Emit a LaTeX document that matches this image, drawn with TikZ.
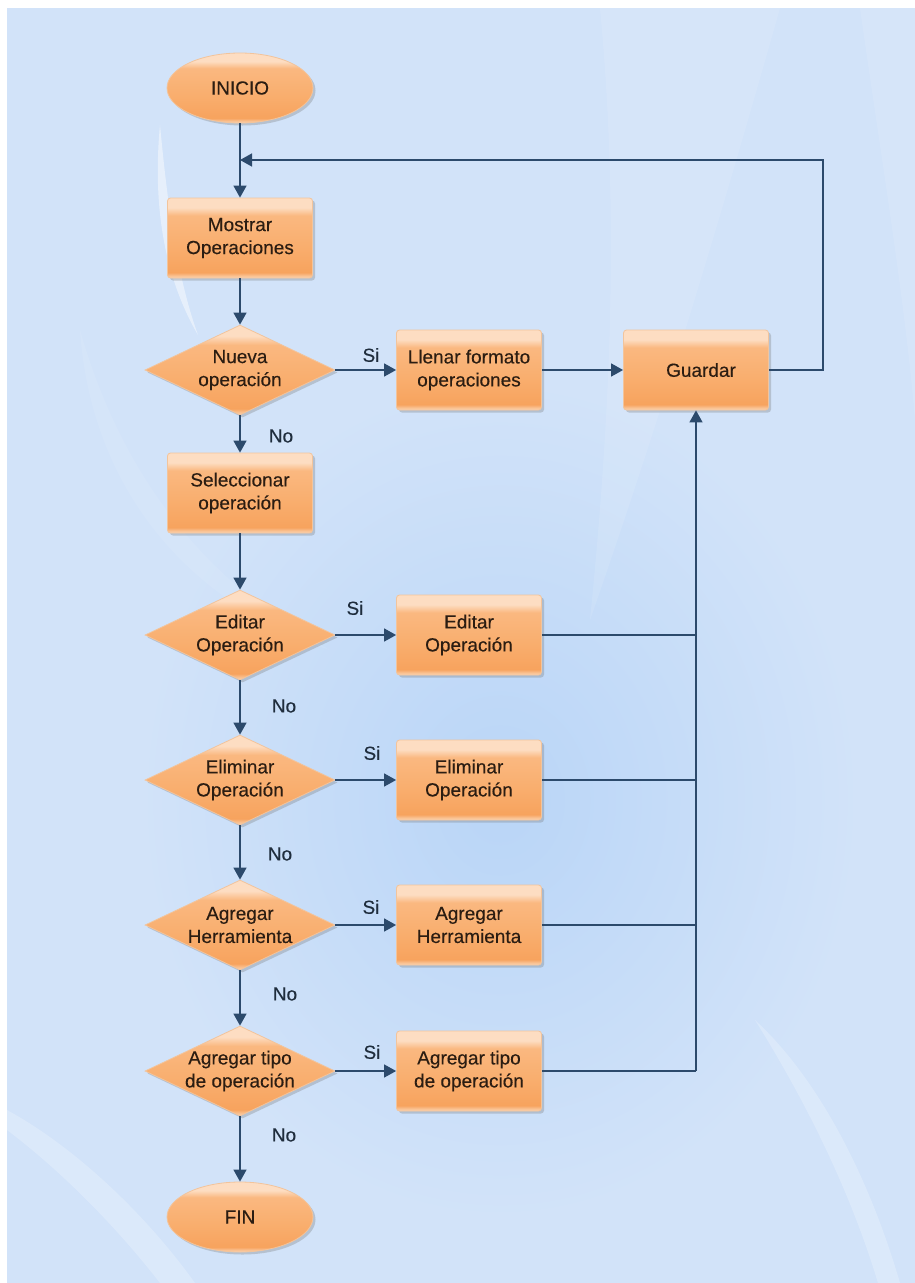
\documentclass[tikz,border=0pt]{standalone}
\usepackage{fontspec}
\setmainfont[FakeBold=0.25]{Liberation Sans}
\usetikzlibrary{shapes.geometric,arrows.meta,shadows}

% palette
\definecolor{bgblue}{HTML}{D2E3F9}
\definecolor{bgdeep}{HTML}{B9D5F7}
\definecolor{linecol}{HTML}{2C4A6C}
\definecolor{boxedge}{HTML}{F2C49C}
\definecolor{txtcol}{HTML}{2B1D12}
\definecolor{lblcol}{HTML}{1F2D3D}
\definecolor{glossbot}{HTML}{FBD6B6}
\definecolor{glosslow}{HTML}{F7A35E}
\definecolor{glossmid}{HTML}{F9AE6E}
\definecolor{glosshi}{HTML}{FAB880}
\definecolor{glosstop}{HTML}{FDDDC2}

% glossy orange fill: light rim at top and bottom, orange body
\pgfdeclareverticalshading{gloss}{100bp}{%
  color(0bp)=(glossbot); color(25bp)=(glossbot); color(28.5bp)=(glosslow);
  color(45bp)=(glossmid); color(64bp)=(glosshi); color(69bp)=(glosstop);
  color(75bp)=(glosstop); color(100bp)=(glosstop)}

\tikzset{
  shapebase/.style={shading=gloss, draw=boxedge, line width=0.8pt,
    font=\fontsize{19}{23}\selectfont, text=txtcol, align=center,
    drop shadow={shadow xshift=2.5pt, shadow yshift=-2.5pt, fill=black!55, opacity=0.3}},
  proc/.style={shapebase, rectangle, rounded corners=3pt,
    minimum width=145pt, minimum height=80pt, inner sep=2pt},
  decision/.style={shapebase, diamond, aspect=2.1, inner xsep=-15pt, inner ysep=0pt,
    minimum width=190pt, minimum height=90pt},
  term/.style={shapebase, ellipse, minimum width=146pt, minimum height=70pt, inner sep=0pt},
  wire/.style={draw=linecol, line width=1.4pt},
  flow/.style={wire, -{Triangle[length=12pt,width=13pt]}},
  lbl/.style={font=\fontsize{19}{22}\selectfont, text=lblcol, inner sep=0pt}
}

\begin{document}
\begin{tikzpicture}[x=1pt, y=-1pt]
\useasboundingbox (0,0) rectangle (915,1283);

% backdrop
\fill[white] (0,0) rectangle (915,1283);
\fill[bgblue] (7,8) rectangle (915,1283);
\begin{scope}
  \clip (7,8) rectangle (915,1283);
  \shade[inner color=bgdeep, outer color=bgblue] (500,800) ellipse [x radius=360, y radius=420];
  % soft light swooshes
  \fill[white, opacity=0.10] (600,8) -- (780,8) .. controls (720,220) and (660,420) .. (590,620)
        .. controls (610,420) and (620,220) .. (600,8) -- cycle;
  \fill[white, opacity=0.10] (860,8) -- (915,8) -- (915,420) .. controls (905,300) and (880,150) .. (860,8) -- cycle;
  \fill[white, opacity=0.45] (160,125) .. controls (152,210) and (166,280) .. (198,335)
        .. controls (178,280) and (168,210) .. (160,125) -- cycle;
  \fill[white, opacity=0.08] (80,330) .. controls (90,480) and (180,600) .. (330,650)
        .. controls (200,580) and (120,470) .. (80,330) -- cycle;
  \fill[white, opacity=0.22] (7,1110) .. controls (80,1150) and (150,1220) .. (195,1283)
        -- (160,1283) .. controls (115,1225) and (60,1170) .. (7,1130) -- cycle;
  \fill[white, opacity=0.22] (755,1020) .. controls (820,1080) and (870,1180) .. (900,1283)
        -- (878,1283) .. controls (850,1190) and (805,1100) .. (755,1020) -- cycle;
\end{scope}

% nodes
\node[term]     (inicio)  at (240,88)   {INICIO};
\node[proc]     (mostrar) at (240,238)  {Mostrar\\Operaciones};
\node[decision] (nueva)   at (240,370)  {Nueva\\operación};
\node[proc]     (llenar)  at (469,370)  {Llenar formato\\operaciones};
\node[proc]     (guardar) at (696,370)  {\hspace*{10pt}Guardar};
\node[proc]     (selec)   at (240,493)  {Seleccionar\\operación};
\node[decision] (deditar) at (240,635)  {Editar\\Operación};
\node[proc]     (editar)  at (469,635)  {Editar\\Operación};
\node[decision] (delim)   at (240,780)  {Eliminar\\Operación};
\node[proc]     (elim)    at (469,780)  {Eliminar\\Operación};
\node[decision] (dherr)   at (240,925)  {Agregar\\Herramienta};
\node[proc]     (herr)    at (469,925)  {Agregar\\Herramienta};
\node[decision] (dtipo)   at (240,1071) {Agregar tipo\\de operación};
\node[proc]     (tipo)    at (469,1071) {Agregar tipo\\de operación};
\node[term]     (fin)     at (240,1217) {FIN};

% junctions
\coordinate (jn)    at (240,160);
\coordinate (loopR) at (823,160);
\coordinate (bus)   at (guardar.south |- tipo.east);

% main column
\draw[wire] (inicio) -- (jn);
\draw[flow] (jn) -- (mostrar);
\draw[flow] (mostrar) -- (nueva);
\draw[flow] (nueva) -- (selec);
\draw[flow] (selec) -- (deditar);
\draw[flow] (deditar) -- (delim);
\draw[flow] (delim) -- (dherr);
\draw[flow] (dherr) -- (dtipo);
\draw[flow] (dtipo) -- (fin);

% yes branches
\draw[flow] (nueva) -- (llenar);
\draw[flow] (deditar) -- (editar);
\draw[flow] (delim) -- (elim);
\draw[flow] (dherr) -- (herr);
\draw[flow] (dtipo) -- (tipo);
\draw[flow] (llenar) -- (guardar);

% collector into Guardar
\draw[wire] (editar.east) -- (editar.east -| bus);
\draw[wire] (elim.east) -- (elim.east -| bus);
\draw[wire] (herr.east) -- (herr.east -| bus);
\draw[wire] (tipo.east) -- (bus);
\draw[flow] (bus) -- (guardar.south);

% loop back to the menu
\draw[flow] (guardar.east) -| (loopR) -- (jn);

% branch labels
\node[lbl] (si1) at (371,355)  {Si};
\node[lbl] (no1) at (281,436)  {No};
\node[lbl] (si2) at (355,608)  {Si};
\node[lbl] (no2) at (284,706)  {No};
\node[lbl] (si3) at (372,753)  {Si};
\node[lbl] (no3) at (280,854)  {No};
\node[lbl] (si4) at (371,907)  {Si};
\node[lbl] (no4) at (285,994)  {No};
\node[lbl] (si5) at (372,1052) {Si};
\node[lbl] (no5) at (284,1135) {No};
\end{tikzpicture}
\end{document}
